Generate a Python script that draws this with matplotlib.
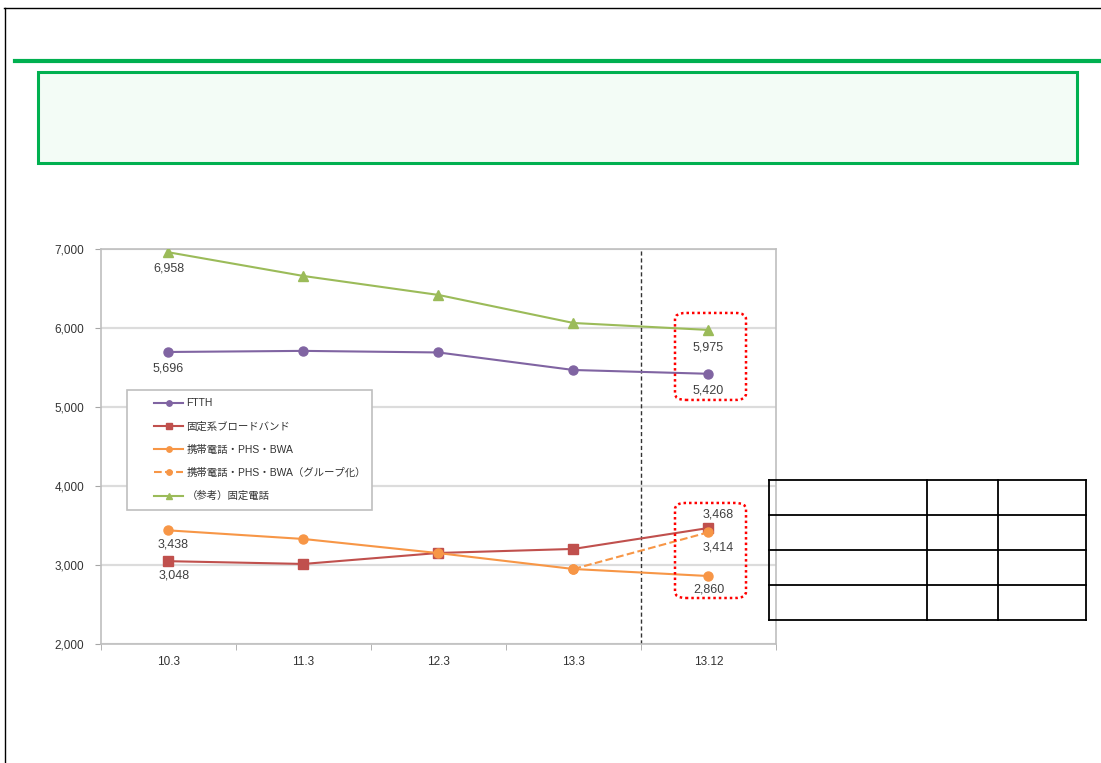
import matplotlib
matplotlib.use('Agg')
import matplotlib.pyplot as plt
from matplotlib.patches import FancyBboxPatch, Rectangle
from matplotlib.lines import Line2D
from matplotlib.legend_handler import HandlerLine2D
from matplotlib.ticker import FuncFormatter, FixedLocator

plt.rcParams['font.family'] = ['Liberation Sans', 'Noto Sans CJK JP', 'DejaVu Sans']

categories = ['10.3', '11.3', '12.3', '13.3', '13.12']
ftth = [5696, 5710, 5690, 5468, 5420]
fixed_bb = [3048, 3013, 3152, 3203, 3468]
mobile = [3438, 3329, 3150, 2949, 2860]
mobile_group = [2949, 3414]          # 13.3 -> 13.12
fixed_phone = [6958, 6658, 6418, 6063, 5975]

labels = ['FTTH', '固定系ブロードバンド', '携帯電話・PHS・BWA',
          '携帯電話・PHS・BWA（グループ化）', '（参考）固定電話']
colors = ['#8064a2', '#c0504d', '#f79646', '#f79646', '#9bbb59']

fig = plt.figure(figsize=(11.01, 7.63), dpi=100)

# page decoration
fig.add_artist(Line2D([0.004, 1.0], [0.9895, 0.9895], color='black', lw=1))
fig.add_artist(Line2D([0.0045, 0.0045], [0.0, 0.9895], color='black', lw=1))
fig.add_artist(Line2D([0.014, 1.0], [0.920, 0.920], color='#00b050', lw=3))
fig.add_artist(Rectangle((0.0345, 0.787), 0.944, 0.119, facecolor='#f3fcf6',
                         edgecolor='#00b050', lw=2.2))

ax = fig.add_axes([0.0917, 0.156, 0.6131, 0.5177])
x = list(range(len(categories)))

ax.plot(x, ftth, '-o', color=colors[0], lw=1.5, ms=6.5, label=labels[0], zorder=3)
ax.plot(x, fixed_bb, '-s', color=colors[1], lw=1.5, ms=6.5, label=labels[1], zorder=3)
ax.plot(x, mobile, '-o', color=colors[2], lw=1.5, ms=6.5, label=labels[2], zorder=3)
ax.plot(x[3:], mobile_group, '--o', color=colors[3], lw=1.5, ms=6.5, label=labels[3], zorder=3)
ax.plot(x, fixed_phone, '-^', color=colors[4], lw=1.5, ms=7, label=labels[4], zorder=3)

ax.set_xlim(-0.5, 4.5)
ax.set_ylim(2000, 7000)
ax.set_yticks(range(2000, 7001, 1000))
ax.yaxis.set_major_formatter(FuncFormatter(lambda v, p: '{:,.0f}'.format(v)))
ax.set_xticks(x)
ax.set_xticklabels(categories)
ax.xaxis.set_minor_locator(FixedLocator([-0.5, 0.5, 1.5, 2.5, 3.5, 4.5]))
ax.tick_params(axis='x', which='major', length=0, pad=9, labelsize=8.5, colors='#333333')
ax.tick_params(axis='x', which='minor', length=4, color='#a6a6a6')
ax.tick_params(axis='y', length=4, color='#a6a6a6', pad=8, labelsize=8.5, labelcolor='#333333')

ax.grid(axis='y', color='#dcdcdc', lw=1.6)
ax.set_axisbelow(True)
for s in ax.spines.values():
    s.set_color('#bfbfbf')
    s.set_linewidth(1.2)

ax.axvline(3.5, color='#333333', lw=1, ls=(0, (3, 2)), zorder=2)

# value labels
lab_kw = dict(textcoords='offset points', ha='center', va='center', fontsize=9, color='#404040')
ax.annotate('6,958', (0, fixed_phone[0]), xytext=(0, -12), **lab_kw)
ax.annotate('5,696', (0, ftth[0]), xytext=(0, -12), **lab_kw)
ax.annotate('3,438', (0, mobile[0]), xytext=(3, -10), **lab_kw)
ax.annotate('3,048', (0, fixed_bb[0]), xytext=(4, -10), **lab_kw)
ax.annotate('5,975', (4, fixed_phone[4]), xytext=(0, -13), **lab_kw)
ax.annotate('5,420', (4, ftth[4]), xytext=(0, -12), **lab_kw)
ax.annotate('3,468', (4, fixed_bb[4]), xytext=(7, 10), **lab_kw)
ax.annotate('3,414', (4, mobile_group[1]), xytext=(7, -11), **lab_kw)
ax.annotate('2,860', (4, mobile[4]), xytext=(0, -10), **lab_kw)

# red dotted highlight boxes
for y0, y1 in [(5089, 6190), (2582, 3785)]:
    ax.add_patch(FancyBboxPatch((3.752, y0), 0.526, y1 - y0,
                                boxstyle='round,pad=0,rounding_size=0.08',
                                mutation_aspect=1000, fill=False, edgecolor='#ff0000',
                                lw=1.8, ls=(0, (1, 1.2)), clip_on=False, zorder=4))

leg = ax.legend(loc='upper left', bbox_to_anchor=(0.0385, 0.342, 0.3625, 0.301),
                mode='expand', labelspacing=1.25, handlelength=4.6,
                handletextpad=0.3, borderpad=0.8, borderaxespad=0, markerscale=0.6,
                fancybox=False, edgecolor='#bfbfbf', framealpha=1,
                handler_map={Line2D: HandlerLine2D(xpad=1.8)},
                prop={'family': ['Liberation Sans', 'Noto Sans CJK JP', 'DejaVu Sans'],
                      'size': 7.5})
leg.get_frame().set_linewidth(1.2)
for t in leg.get_texts():
    t.set_color('#333333')

# empty table on the right
tax = fig.add_axes([0.6985, 0.1874, 0.2879, 0.1835])
tax.set_xlim(0, 317)
tax.set_ylim(0, 140)
tax.axis('off')
for cx in [0, 158, 229, 317]:
    tax.plot([cx, cx], [0, 140], color='black', lw=1.3, clip_on=False)
for cy in [0, 35, 70, 105, 140]:
    tax.plot([0, 317], [cy, cy], color='black', lw=1.3, clip_on=False)

fig.savefig('out.png', dpi=100)
